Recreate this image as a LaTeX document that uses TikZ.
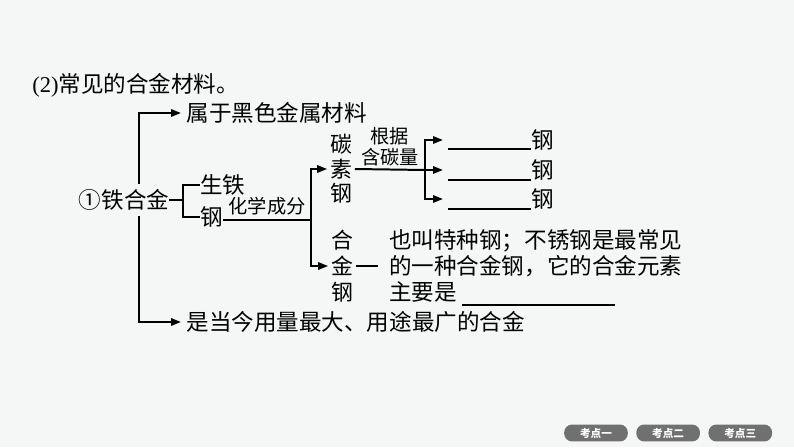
\documentclass[tikz,border=0pt]{standalone}
\usepackage{fontspec}
\setmainfont{Liberation Serif}
\newfontfamily\cjk{Noto Sans CJK SC}
\usepackage{tikz}
\usetikzlibrary{calc}
\usetikzlibrary{arrows.meta}
\usetikzlibrary{positioning}
\definecolor{bgtint}{RGB}{244,247,245}
\definecolor{pillgray}{RGB}{112,112,112}

\begin{document}
\begin{tikzpicture}[x=0.0265cm, y=-0.0265cm,
    txt/.style={inner sep=0pt, font=\cjk\fontsize{17}{19.5}\selectfont},
    vtxt/.style={inner xsep=2pt, inner ysep=0pt, align=center, font=\cjk\fontsize{16.5}{18.5}\selectfont},
    lab/.style={inner sep=0pt, font=\cjk\fontsize{14.5}{16}\selectfont},
    link/.style={line width=1.5pt},
    arr/.style={link, -{Triangle[length=7.5pt, width=5.5pt]}},
    pill/.style={fill=pillgray, text=white, rounded corners=6pt, minimum width=48pt, minimum height=12.8pt, inner sep=0pt, font=\cjk\bfseries\fontsize{8}{8}\selectfont}]
    \fill [bgtint] (0,0) rectangle (794,447);
    \useasboundingbox (0,0) rectangle (794,447);

    \node [txt, anchor=west] (title) at (32,85) {{\rmfamily (2)}常见的合金材料。};

    % iron alloy and its two outer branches
    \node [txt, inner ysep=4pt] (tiehejin) at (124,200) {①铁合金};
    \node [txt, anchor=west, inner xsep=4pt] (shuyu) at (181,113) {属于黑色金属材料};
    \node [txt, anchor=west, inner xsep=4pt] (shidang) at (181,322) {是当今用量最大、用途最广的合金};
    \draw [arr] ([xshift=11pt]tiehejin.north) |- (shuyu.west);
    \draw [arr] ([xshift=11pt]tiehejin.south) |- (shidang.west);

    % bracket: pig iron / steel
    \node [txt, anchor=west] (shengtie) at (200,185) {生铁};
    \node [txt, anchor=west] (gang) at (200,217) {钢};
    \coordinate (brk) at ($(tiehejin.east)+(14,0)$);
    \draw [link] (tiehejin.east) -- (brk);
    \draw [link] (shengtie.west) -| (brk) |- (gang.west);

    % steel by composition
    \coordinate (fork) at (311,220);
    \draw [link] (gang.east |- fork) -- (fork) node [lab, midway, above=3pt] {化学成分};
    \node [vtxt] (tansu) at (341,169) {碳\\素\\钢};
    \node [vtxt, font=\cjk\fontsize{16.5}{19.5}\selectfont] (hejin) at (342,266) {合\\金\\钢};
    \draw [arr] (fork) |- (tansu.west);
    \draw [arr] (fork) |- (hejin.west);

    % carbon steel by carbon content
    \coordinate (split) at (425,170);
    \draw [link] (tansu.east) -- (split) node [lab, midway, above=2pt, align=center] {根据\\含碳量};
    \coordinate (b1) at (443,140);
    \coordinate (b2) at (443,170);
    \coordinate (b3) at (443,199);
    \draw [arr] (split) |- (b1);
    \draw [arr] (split) -- (b2);
    \draw [arr] (split) |- (b3);
    \node [txt] (gang1) at (543,140) {钢};
    \node [txt] (gang2) at (543,170) {钢};
    \node [txt] (gang3) at (543,199) {钢};
    \foreach \y in {149,180,209}
        \draw [link] (448,\y) -- (531,\y);

    % alloy steel note
    \node [txt, anchor=west, align=left] (hejintext) at (389,266) {也叫特种钢；不锈钢是最常见\\的一种合金钢，它的合金元素\\主要是};
    \draw [link, shorten >=8pt] (hejin.east) -- (hejintext.west);
    \draw [link] (462,305) -- (615,305);

    % tabs
    \node [pill] (kaodian1) at (596,433) {考点一};
    \node [pill, right=6pt of kaodian1] (kaodian2) {考点二};
    \node [pill, right=6pt of kaodian2] (kaodian3) {考点三};
\end{tikzpicture}
\end{document}
